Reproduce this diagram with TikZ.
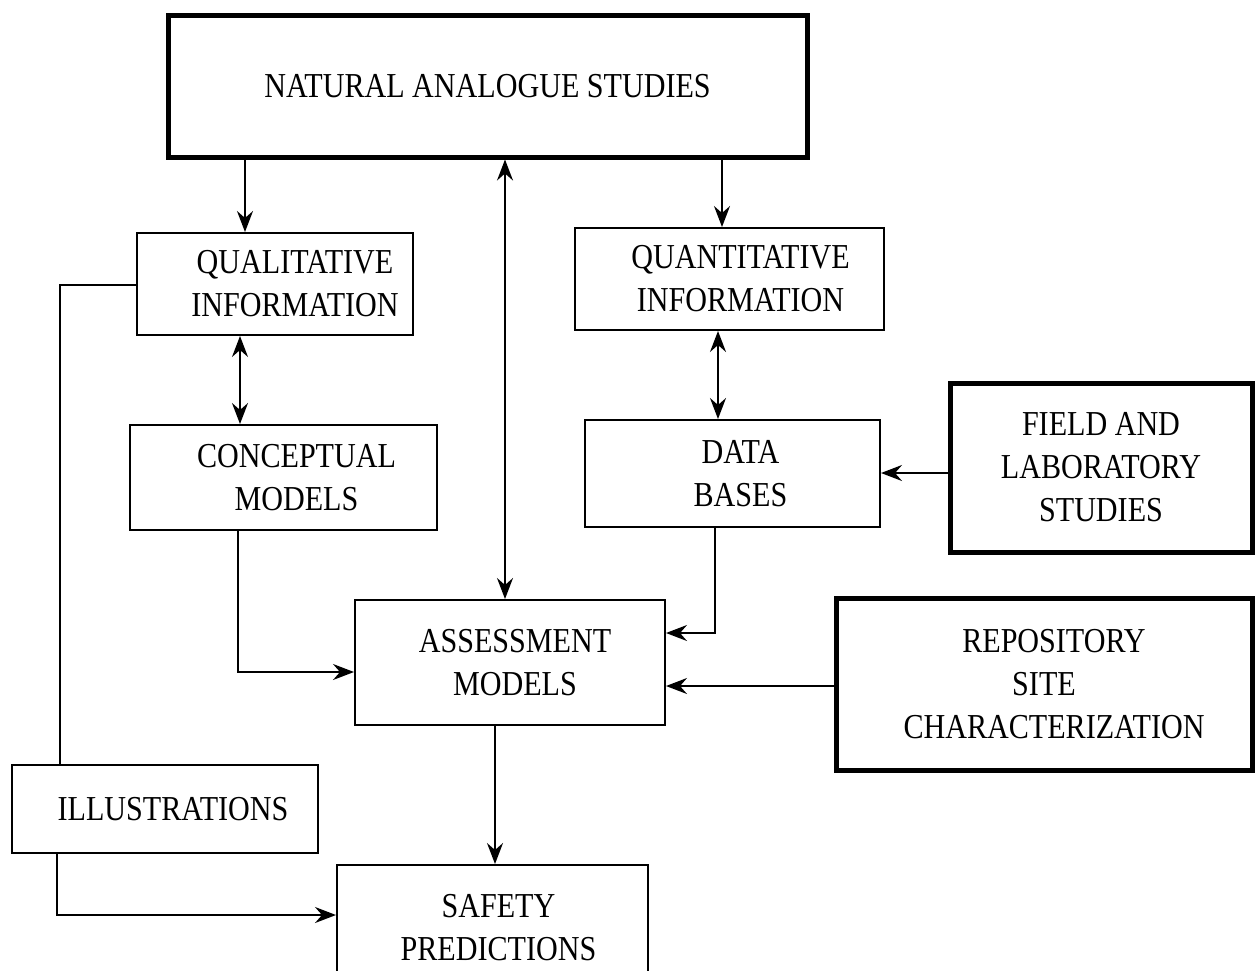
\documentclass[tikz,border=0pt]{standalone}
\usepackage{fontspec}
\setmainfont{Liberation Serif}[FakeStretch=0.86]
\usetikzlibrary{arrows.meta}
\begin{document}
\begin{tikzpicture}[x=1pt,y=-1pt,
  box/.style={draw, line width=2pt, align=center, inner sep=0pt, font=\fontsize{35}{43}\selectfont},
  thickbox/.style={box, line width=5pt},
  con/.style={line width=1.8pt},
  tip/.tip={Stealth[length=21pt,width=16pt,inset=7pt]},
  arr/.style={con, -tip},
  darr/.style={con, tip-tip}]
\useasboundingbox (0,0) rectangle (1255,970);
\clip (0,0) rectangle (1255,970);
\node[thickbox, minimum width=639, minimum height=142] (nas) at (487.5,86) {NATURAL ANALOGUE STUDIES};
\node[box, minimum width=276, minimum height=102] (qual) at (275,284) {\hspace*{40pt}QUALITATIVE\\\hspace*{40pt}INFORMATION};
\node[box, minimum width=309, minimum height=102] (quant) at (729.5,279) {\hspace*{22pt}QUANTITATIVE\\\hspace*{22pt}INFORMATION};
\node[box, minimum width=307, minimum height=105] (conc) at (283.5,477.5) {\hspace*{26pt}CONCEPTUAL\\\hspace*{26pt}MODELS};
\node[box, minimum width=295, minimum height=107] (data) at (732.5,473.5) {\hspace*{16pt}DATA\\\hspace*{16pt}BASES};
\node[thickbox, minimum width=302, minimum height=169] (field) at (1101,467.5) {FIELD AND\\LABORATORY\\STUDIES};
\node[box, minimum width=310, minimum height=125] (ass) at (510,662.5) {\hspace*{10pt}ASSESSMENT\\\hspace*{10pt}MODELS};
\node[thickbox, minimum width=416, minimum height=172] (repo) at (1044,684) {\hspace*{20pt}REPOSITORY\\SITE\\\hspace*{20pt}CHARACTERIZATION};
\node[box, minimum width=306, minimum height=88] (ill) at (165,809) {\hspace*{16pt}ILLUSTRATIONS};
\node[box, minimum width=311, minimum height=126] (safe) at (492.5,928) {\hspace*{12pt}SAFETY\\\hspace*{12pt}PREDICTIONS};
\draw[arr] (245,0 |- nas.south) -- (245,0 |- qual.north);
\draw[arr] (722,0 |- nas.south) -- (722,0 |- quant.north);
\draw[darr] (505,0 |- nas.south) -- (505,0 |- ass.north);
\draw[darr] (240,0 |- qual.south) -- (240,0 |- conc.north);
\draw[darr] (718,0 |- quant.south) -- (718,0 |- data.north);
\draw[arr] (field.west |- 0,473) -- (data.east |- 0,473);
\draw[arr] (715,0 |- data.south) |- (ass.east |- 0,633);
\draw[arr] (238,0 |- conc.south) |- (ass.west |- 0,672);
\draw[arr] (repo.west |- 0,686) -- (ass.east |- 0,686);
\draw[arr] (495,0 |- ass.south) -- (495,0 |- safe.north);
\draw[con] (qual.west |- 0,285) -| (60,0 |- ill.north);
\draw[arr] (57,0 |- ill.south) |- (safe.west |- 0,915);
\end{tikzpicture}
\end{document}
